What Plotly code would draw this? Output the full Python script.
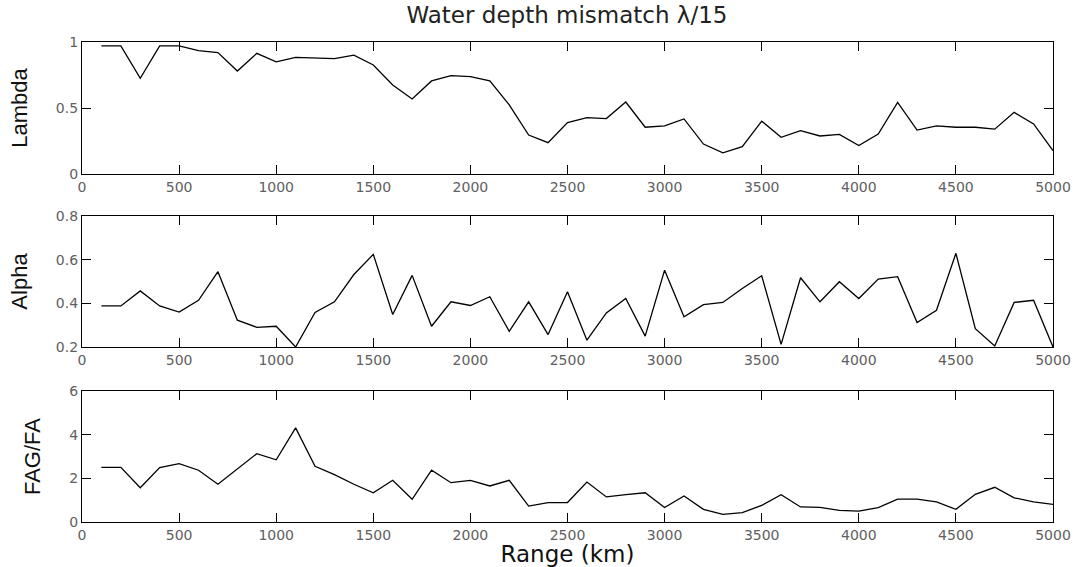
import plotly.graph_objects as go
from plotly.subplots import make_subplots

range_km = list(range(100, 5001, 100))

lambda_vals = [0.97, 0.97, 0.725, 0.97, 0.97, 0.934, 0.92, 0.78, 0.914, 0.85,
               0.884, 0.88, 0.874, 0.90, 0.826, 0.674, 0.568, 0.705, 0.745, 0.737,
               0.705, 0.523, 0.295, 0.237, 0.39, 0.427, 0.42, 0.545, 0.354, 0.364,
               0.417, 0.227, 0.16, 0.207, 0.40, 0.278, 0.328, 0.288, 0.30, 0.215,
               0.303, 0.543, 0.333, 0.364, 0.354, 0.354, 0.34, 0.467, 0.379, 0.177]

alpha_vals = [0.388, 0.388, 0.457, 0.388, 0.36, 0.414, 0.545, 0.323, 0.29, 0.295,
              0.20, 0.358, 0.407, 0.532, 0.624, 0.349, 0.528, 0.295, 0.407, 0.39,
              0.43, 0.272, 0.407, 0.257, 0.453, 0.231, 0.356, 0.422, 0.25, 0.552,
              0.338, 0.394, 0.404, 0.468, 0.526, 0.212, 0.517, 0.407, 0.499, 0.422,
              0.511, 0.522, 0.312, 0.368, 0.629, 0.284, 0.205, 0.404, 0.414, 0.20]

fag_vals = [2.50, 2.50, 1.57, 2.49, 2.67, 2.37, 1.73, 2.43, 3.13, 2.85,
            4.31, 2.55, 2.17, 1.73, 1.34, 1.91, 1.04, 2.37, 1.80, 1.91,
            1.65, 1.91, 0.73, 0.89, 0.89, 1.83, 1.15, 1.25, 1.34, 0.66,
            1.19, 0.58, 0.35, 0.43, 0.76, 1.25, 0.69, 0.67, 0.53, 0.50,
            0.66, 1.05, 1.05, 0.92, 0.58, 1.27, 1.59, 1.11, 0.92, 0.81]

x_ticks = [0, 500, 1000, 1500, 2000, 2500, 3000, 3500, 4000, 4500, 5000]

fig = make_subplots(rows=3, cols=1, shared_xaxes=False)

series = [(lambda_vals, "Lambda", [0, 1], [0, 0.5, 1]),
          (alpha_vals, "Alpha", [0.2, 0.8], [0.2, 0.4, 0.6, 0.8]),
          (fag_vals, "FAG/FA", [0, 6], [0, 2, 4, 6])]

domains = [[0.725, 1.0], [0.3646, 0.6375], [0.0, 0.2729]]

tick_font = dict(family="DejaVu Sans, sans-serif", size=14, color="#606060")
title_font = dict(family="Liberation Sans Narrow, Arial Narrow, Liberation Sans, sans-serif",
                  size=22, color="#111111")

for i, (vals, name, yr, yt) in enumerate(series, start=1):
    fig.add_trace(go.Scatter(x=range_km, y=vals, mode="lines",
                             line=dict(color="black", width=1.3),
                             showlegend=False), row=i, col=1)
    fig.update_yaxes(range=yr, tickvals=yt, ticktext=[f"{v:g}" for v in yt],
                     ticks="inside", ticklen=9, tickcolor="black", tickwidth=1.3,
                     showline=True, linecolor="black", linewidth=1.3, mirror="ticks",
                     showgrid=False, zeroline=False, tickfont=tick_font,
                     automargin=False,
                     title=dict(text=name, font=title_font, standoff=22),
                     domain=domains[i - 1], row=i, col=1)
    fig.update_xaxes(range=[0, 5000], tickvals=x_ticks,
                     ticks="inside", ticklen=9, tickcolor="black", tickwidth=1.3,
                     showline=True, linecolor="black", linewidth=1.3, mirror="ticks",
                     showgrid=False, zeroline=False, tickfont=tick_font,
                     automargin=False,
                     row=i, col=1)

fig.update_xaxes(title=dict(text="Range (km)",
                            font=dict(family="DejaVu Sans, sans-serif", size=23, color="#111111"),
                            standoff=0), row=3, col=1)

fig.update_layout(
    width=1080, height=567,
    margin=dict(l=82, r=27, t=42, b=45),
    paper_bgcolor="white", plot_bgcolor="white",
    title=dict(text="Water depth mismatch λ/15", x=0.525, xanchor="center",
               y=0.974, yanchor="middle",
               font=dict(family="DejaVu Sans, sans-serif", size=23, color="#222222")),
)

fig.write_html("out.html")
